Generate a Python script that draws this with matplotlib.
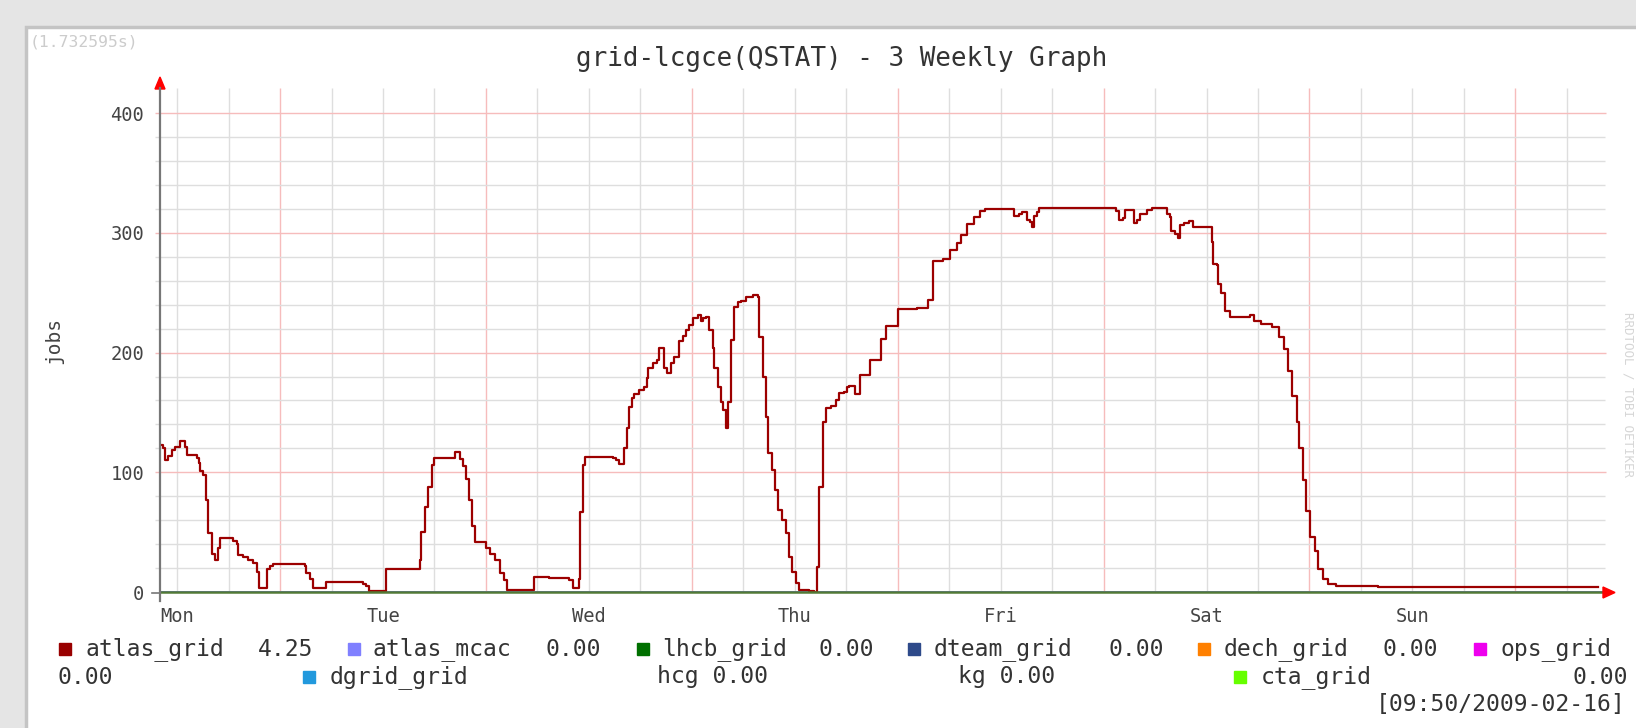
import matplotlib
matplotlib.use('Agg')
import matplotlib.pyplot as plt
from matplotlib.patches import Rectangle, Polygon
from matplotlib.lines import Line2D

# hours since the left edge of the window (Mon ~10:00, 2009-02-09)
HOURS = [0.0, 0.4, 0.6, 0.9, 1.36, 1.8, 2.33, 2.91, 3.18, 4.27, 4.5, 4.66, 5.0, 5.36,
         5.63, 6.01, 6.4, 6.79, 6.98, 8.54, 9.0, 9.12, 9.7, 10.28, 10.87, 11.25, 11.56,
         12.42, 12.81, 13.2, 16.88, 17.07, 17.46, 17.85, 19.4, 23.67, 24.06, 24.37,
         26.39, 30.27, 30.46, 30.85, 31.24, 31.74, 31.94, 34.15, 34.34, 34.92, 35.31,
         35.7, 36.01, 36.4, 36.67, 38.03, 38.42, 39.0, 39.58, 40.16, 40.43, 43.27,
         43.57, 45.4, 47.73, 48.12, 48.82, 48.97, 49.36, 49.59, 52.77, 53.16, 53.55,
         54.13, 54.4, 54.64, 55.02, 55.3, 55.88, 56.46, 56.73, 56.93, 57.43, 57.9,
         58.13, 58.6, 58.79, 59.06, 59.57, 59.95, 60.46, 60.93, 61.32, 61.7, 62.09,
         62.67, 63.06, 63.26, 63.65, 63.96, 64.42, 64.62, 65.0, 65.39, 65.67, 65.98,
         66.25, 66.56, 66.95, 67.33, 67.72, 68.3, 69.08, 69.66, 69.86, 70.24, 70.63,
         70.9, 71.33, 71.72, 72.1, 72.57, 72.96, 73.27, 73.73, 74.2, 74.51, 75.67,
         76.25, 76.64, 76.83, 77.3, 77.61, 78.19, 78.77, 79.16, 79.74, 80.13, 80.37,
         80.98, 81.58, 82.8, 84.01, 84.62, 86.07, 88.27, 89.48, 90.08, 91.3, 92.15,
         92.88, 93.36, 94.1, 94.95, 95.55, 96.16, 99.53, 100.12, 100.5, 101.09, 101.4,
         101.67, 101.86, 102.2, 102.44, 111.17, 111.4, 111.76, 112.3, 112.53, 113.2,
         113.5, 113.9, 114.28, 115.05, 115.7, 117.38, 117.7, 117.88, 118.3, 118.7,
         118.93, 119.4, 120.0, 120.48, 122.61, 122.81, 123.2, 123.39, 123.7, 124.1,
         124.7, 127.1, 127.5, 128.3, 129.6, 130.5, 131.0, 131.5, 132.0, 132.5, 132.8,
         133.2, 133.6, 134.1, 134.7, 135.0, 135.6, 136.2, 137.1, 142.0, 150.0, 158.0,
         165.0, 167.6]
ATLAS_GRID = [123, 120, 110, 114, 119, 121, 126, 121, 114.5, 112, 108, 101, 98, 77,
              49, 32, 27, 37, 45, 43, 40, 31, 29, 27, 24, 17, 3,
              19, 22, 23, 22, 16, 11, 3, 8, 7, 5, 1,
              19, 27, 50, 71, 87.5, 106, 112, 112, 116.6, 111, 105,
              94, 77, 55, 41.5, 37, 32, 27, 16, 10, 2, 2,
              12.5, 12, 10, 3, 11, 67, 106, 113, 112, 110, 107,
              120, 136.7, 154.8, 161.8, 165, 168.8, 171, 178.5, 186.9, 191, 193.5,
              203.6, 204, 187, 183, 191, 196.6, 210, 213.5, 218.6, 222.8, 228.6,
              231.4, 226.6, 228.6, 230, 218.6, 203.6, 186.9, 171.5, 159, 152, 136.7,
              159, 210.5, 238.4, 242, 242.8, 246.7, 248, 246.7, 213.3, 180, 146.5,
              115.9, 102, 85.2, 68.5, 60, 49, 29.5, 17, 7.5, 2, 0.6,
              0, 21, 88, 142.3, 153.5, 155.5, 160, 166, 167, 171.5, 172,
              165, 181, 194, 211, 222.6, 236, 237.6, 244, 276.8, 278.5, 285.7,
              291.5, 298.5, 307, 313, 318.6, 320, 314, 316, 317.5, 311, 309,
              305, 314, 317.5, 320.5, 320.5, 318, 311, 312.5, 319, 319,
              308.5, 311, 316, 319, 320.5, 316, 313.5, 301.6, 298.8, 296,
              306.6, 308, 309.5, 305, 292, 274, 273, 257, 250, 235,
              230, 231, 226, 224, 221, 213, 202.6, 185, 163.4, 141.6, 120,
              93.7, 67.5, 45.7, 34, 19.5, 10.8, 6.4, 4.7, 4.5, 4.3, 4.4,
              4.25, 4.25]

# the other queues stay at zero over the whole window
ZERO_SPAN = [0.0, 168.2]
ZERO_VALUES = [0.0, 0.0]

DAYS = ['Mon', 'Tue', 'Wed', 'Thu', 'Fri', 'Sat', 'Sun']
DAY_NOON = [2.0, 26.0, 50.0, 74.0, 98.0, 122.0, 146.0]
MIDNIGHT = [14.0, 38.0, 62.0, 86.0, 110.0, 134.0, 158.0]
SIX_HOUR = [2.0, 8.0, 20.0, 26.0, 32.0, 44.0, 50.0, 56.0, 68.0, 74.0, 80.0, 92.0,
            98.0, 104.0, 116.0, 122.0, 128.0, 140.0, 146.0, 152.0, 164.0]
Y_MAJOR = [0, 100, 200, 300, 400]
Y_MINOR = [20, 40, 60, 80, 120, 140, 160, 180, 220, 240, 260, 280, 320, 340, 360, 380]

W, H = 1636, 728


def fx(px): return px / W
def fy(py): return 1 - py / H


def graph():
    plt.rcParams.update({'font.family': 'DejaVu Sans Mono'})
    fig = plt.figure(figsize=(W / 100, H / 100), dpi=100)
    fig.patch.set_facecolor('#e5e5e5')

    # white image canvas with grey border
    fig.patches.append(Rectangle((fx(26), fy(760)), fx(1640), (760 - 27) / H,
                                 transform=fig.transFigure, facecolor='white',
                                 edgecolor='#c4c4c4', lw=2.5, zorder=-5))

    ax_w = (1602.8 - 160) / W
    ax = fig.add_axes([fx(160), fy(592), ax_w, (592 - 88) / H])
    ax.set_xlim(0, 168.2)
    ax.set_ylim(0, 421)
    ax.patch.set_alpha(0)
    for s in ax.spines.values(): s.set_visible(False)

    # grid
    ax.vlines(SIX_HOUR, 0, 421, colors='#dedede', lw=1, zorder=1)
    ax.vlines(MIDNIGHT, 0, 421, colors='#f6bcbc', lw=1, zorder=1)
    ax.hlines(Y_MINOR, -0.0035, 1.0015, transform=ax.get_yaxis_transform(),
              colors='#dedede', lw=1, clip_on=False, zorder=1)
    ax.hlines(Y_MAJOR[1:], -0.0035, 1.0025, transform=ax.get_yaxis_transform(),
              colors='#f6bcbc', lw=1, clip_on=False, zorder=1)

    # series
    for c in ['#2299dd', '#66ff00', '#ee00ee', '#ff8000', '#2e4a8a', '#8080ff']:
        ax.plot(ZERO_SPAN, ZERO_VALUES, color=c, lw=1.4, zorder=2)
    ax.plot(HOURS, ATLAS_GRID, drawstyle='steps-post', color='#9c0000', lw=1.6, zorder=3)
    ax.plot(ZERO_SPAN, ZERO_VALUES, color='#527a36', lw=1.8, zorder=4, clip_on=False)

    # ticks
    ax.set_yticks(Y_MAJOR)
    ax.set_xticks(DAY_NOON)
    ax.set_xticklabels(DAYS)
    ax.tick_params(length=0, labelsize=13.5, labelcolor='#444444')
    ax.tick_params(axis='y', pad=11.5)
    ax.tick_params(axis='x', pad=11)
    ax.set_ylabel('jobs', fontsize=14, color='#444444')
    ax.yaxis.set_label_coords(fx(63 - 160) / ax_w, 0.5)

    # axes with red arrow heads
    fig.lines.append(Line2D([fx(160), fx(160)], [fy(601), fy(88)], transform=fig.transFigure,
                            color='#777777', lw=1.6))
    fig.lines.append(Line2D([fx(152), fx(160)], [fy(592.5), fy(592.5)], transform=fig.transFigure,
                            color='#777777', lw=1.2))
    fig.patches.append(Polygon([(fx(155), fy(89)), (fx(165), fy(89)), (fx(160), fy(77))],
                               transform=fig.transFigure, color='#ff0000'))
    fig.patches.append(Polygon([(fx(1603), fy(587)), (fx(1603), fy(598)), (fx(1615), fy(592.5))],
                               transform=fig.transFigure, color='#ff0000'))

    # texts
    fig.text(fx(30), fy(42), '(1.732595s)', fontsize=11.8, color='#cccccc', va='center')
    fig.text(fx(842), fy(59), 'grid-lcgce(QSTAT) - 3 Weekly Graph', fontsize=18.7,
             color='#333333', ha='center', va='center')
    fig.text(fx(1628), fy(395), 'RRDTOOL / TOBI OETIKER', fontsize=9, color='#d6d6d6',
             rotation=270, ha='center', va='center')

    # legend
    row1, row2, row3 = 649, 677, 705
    kw = dict(fontsize=16.6, color='#333333', va='center')
    for x, c in [(64.7, '#990000'), (353.7, '#8080ff'), (642.7, '#007000'),
                 (914.4, '#2e4a8a'), (1204, '#ff8000'), (1479.5, '#ee00ee')]:
        fig.patches.append(Rectangle((fx(x - 6), fy(row1 + 6)), fx(12), 12 / H,
                                     transform=fig.transFigure, color=c))
    for x, c in [(308.8, '#2299dd'), (1239.6, '#66ff00')]:
        fig.patches.append(Rectangle((fx(x - 6), fy(row2 + 6)), fx(12), 12 / H,
                                     transform=fig.transFigure, color=c))
    for x, t in [(85.6, 'atlas_grid'), (257.7, '4.25'), (372.5, 'atlas_mcac'), (545.7, '0.00'),
                 (662.6, 'lhcb_grid'), (819, '0.00'), (933.8, 'dteam_grid'), (1108, '0.00'),
                 (1224, 'dech_grid'), (1382.6, '0.00'), (1500.4, 'ops_grid')]:
        fig.text(fx(x), fy(row1), t, **kw)
    for x, t in [(57.4, '0.00'), (329.7, 'dgrid_grid'), (657.3, 'hcg 0.00'),
                 (957.8, 'kg 0.00'), (1260.3, 'cta_grid')]:
        fig.text(fx(x), fy(row2), t, **kw)
    fig.text(fx(1627.7), fy(row2), '0.00', ha='right', **kw)
    fig.text(fx(1625.6), fy(row3), '[09:50/2009-02-16]', ha='right', **kw)

    fig.savefig('out.png', dpi=100, facecolor=fig.get_facecolor())
    plt.close(fig)


if __name__ == '__main__':
    graph()
